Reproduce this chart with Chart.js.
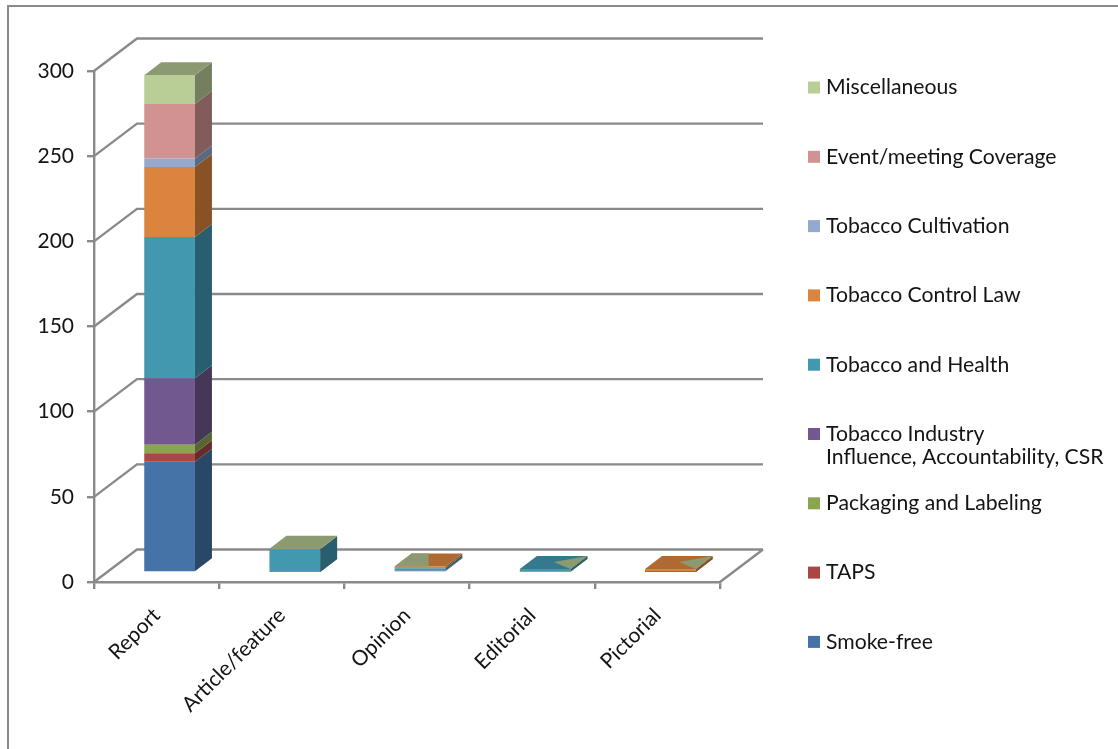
<!DOCTYPE html>
<html>
<head>
<meta charset="utf-8">
<title>Tobacco coverage by article type</title>
<script src="https://cdn.jsdelivr.net/npm/chart.js@4/dist/chart.umd.min.js"></script>
<style>
  html, body { margin: 0; background: #fff; }
  canvas { display: block; }
</style>
</head>
<body>
<canvas id="coverage" width="1118" height="749"></canvas>
<script>
const categories = ["Report", "Article/feature", "Opinion", "Editorial", "Pictorial"];
const yTicks = [0, 50, 100, 150, 200, 250, 300];

const smokeFree = [65, 0, 0, 0, 0];
const taps = [5, 0, 0, 0, 0];
const packaging = [5, 0.3, 0, 0.5, 0];
const industry = [39, 0, 1, 0, 0.3];
const health = [83, 13.4, 1.5, 1.5, 0];
const controlLaw = [41, 0.3, 1, 0, 1.7];
const cultivation = [5, 0, 0, 0, 0];
const eventCoverage = [32, 0, 0, 0, 0];
const miscellaneous = [17, 0, 0, 0, 0];

const seriesLabels = [
  "Smoke-free", "TAPS", "Packaging and Labeling",
  ["Tobacco Industry", "Influence, Accountability, CSR"],
  "Tobacco and Health", "Tobacco Control Law", "Tobacco Cultivation",
  "Event/meeting Coverage", "Miscellaneous"
];
const seriesValues = [smokeFree, taps, packaging, industry, health, controlLaw, cultivation, eventCoverage, miscellaneous];
const seriesColors = ["#4572A7", "#AA4643", "#89A54E", "#71588F", "#4198AF", "#DB843D", "#93A9CF", "#D19392", "#B9CD96"];

const AXIS_GREY = "#8a8a8a";
const AXIS_WIDTH = 2.4;
const TEXT = "#141414";
const FONT = "Lato";
// depth of the box behind the front wall, and of each column
const WALL_DX = 43, WALL_DY = -32.5;
const BAR_DX = 17, BAR_DY = -13;
// columns stand a little way back from the front edge of the floor
const FLOOR_DX = 13, FLOOR_DY = -9.5;

function shade(hex, k) {
  const n = parseInt(hex.slice(1), 16);
  const c = [n >> 16, (n >> 8) & 255, n & 255].map(v => Math.round(v * k));
  return `rgb(${c[0]},${c[1]},${c[2]})`;
}

function fillPoly(ctx, pts, color) {
  ctx.fillStyle = color;
  ctx.beginPath();
  pts.forEach((p, i) => i ? ctx.lineTo(p[0], p[1]) : ctx.moveTo(p[0], p[1]));
  ctx.closePath();
  ctx.fill();
}

// outer frame, left and top only
const framePlugin = {
  id: "frame",
  beforeDraw(chart) {
    const ctx = chart.ctx;
    ctx.save();
    ctx.strokeStyle = AXIS_GREY;
    ctx.lineWidth = 2;
    ctx.beginPath();
    ctx.moveTo(8, chart.height);
    ctx.lineTo(8, 6);
    ctx.lineTo(chart.width, 6);
    ctx.stroke();
    ctx.restore();
  }
};

// back wall and floor lines, taken from the value scale
const wallsPlugin = {
  id: "walls",
  beforeDatasetsDraw(chart) {
    const ctx = chart.ctx;
    const y = chart.scales.y;
    const { left, right } = chart.chartArea;
    ctx.save();
    ctx.strokeStyle = AXIS_GREY;
    ctx.lineWidth = AXIS_WIDTH;
    ctx.beginPath();
    y.ticks.forEach(t => {
      const py = y.getPixelForValue(t.value);
      ctx.moveTo(left, py);
      ctx.lineTo(left + WALL_DX, py + WALL_DY);
      ctx.lineTo(right + WALL_DX, py + WALL_DY);
    });
    const base = y.getPixelForValue(0);
    ctx.moveTo(right, base);
    ctx.lineTo(right + WALL_DX, base + WALL_DY);
    ctx.stroke();
    ctx.restore();
  }
};

// shift the stacks onto the floor and add side and top faces to the flat bars
const boxPlugin = {
  id: "box",
  beforeDatasetsDraw(chart) {
    chart.ctx.save();
    chart.ctx.translate(FLOOR_DX, FLOOR_DY);
  },
  afterDatasetsDraw(chart) {
    const ctx = chart.ctx;
    const sets = chart.data.datasets;
    categories.forEach((name, c) => {
      let top = null;
      sets.forEach((ds, s) => {
        if (!ds.data[c]) return;
        const bar = chart.getDatasetMeta(s).data[c];
        const r = bar.x + bar.width / 2;
        fillPoly(ctx, [
          [r, bar.base], [r + BAR_DX, bar.base + BAR_DY],
          [r + BAR_DX, bar.y + BAR_DY], [r, bar.y]
        ], shade(seriesColors[s], 0.62));
        top = { bar, s };
      });
      drawTop(ctx, top.bar, seriesColors[top.s], c);
    });
    ctx.restore();
  }
};

// the empty series above a stack show through on its top face
function drawTop(ctx, bar, color, c) {
  const l = bar.x - bar.width / 2, r = bar.x + bar.width / 2, y = bar.y;
  const misc = shade(seriesColors[8], 0.75);
  const face = [[l, y], [l + BAR_DX, y + BAR_DY], [r + BAR_DX, y + BAR_DY], [r, y]];
  const split = l + bar.width * 0.67;
  if (c < 2) {
    fillPoly(ctx, face, misc);
  } else {
    fillPoly(ctx, face, shade(color, 0.8));
    if (c === 2) {
      fillPoly(ctx, [[l, y], [l + BAR_DX, y + BAR_DY], [split, y + BAR_DY], [split, y]], misc);
    } else {
      fillPoly(ctx, [[split, y - 7], [r + BAR_DX, y + BAR_DY], [r, y]], misc);
    }
  }
}

// legend column on the right, last series first
const legendPlugin = {
  id: "sideLegend",
  afterDraw(chart) {
    const ctx = chart.ctx;
    ctx.save();
    ctx.font = `21.2px ${FONT}`;
    ctx.textBaseline = "middle";
    seriesLabels.slice().reverse().forEach((label, i) => {
      const cy = 87.5 + i * 69.3;
      ctx.fillStyle = seriesColors[seriesColors.length - 1 - i];
      ctx.fillRect(808, cy - 6, 12, 12);
      ctx.fillStyle = TEXT;
      [].concat(label).forEach((line, n) => ctx.fillText(line, 826, cy + n * 23));
    });
    ctx.restore();
  }
};

new Chart(document.getElementById("coverage"), {
  type: "bar",
  data: {
    labels: categories,
    datasets: seriesValues.map((values, i) => ({
      label: [].concat(seriesLabels[i]).join(" "),
      data: values,
      backgroundColor: seriesColors[i],
      borderWidth: 0,
      clip: false
    }))
  },
  options: {
    responsive: false,
    animation: false,
    events: [],
    categoryPercentage: 1,
    barPercentage: 0.405,
    layout: { padding: { left: 0, top: 71, right: 398, bottom: 0 } },
    plugins: { legend: { display: false }, tooltip: { enabled: false }, title: { display: false } },
    scales: {
      x: {
        stacked: true,
        afterFit(scale) {
          scale.height = 167;
          scale.paddingLeft = scale.paddingRight = 0;
        },
        grid: { color: AXIS_GREY, lineWidth: AXIS_WIDTH, drawOnChartArea: false, tickLength: 7 },
        border: { color: AXIS_GREY, width: AXIS_WIDTH },
        ticks: { minRotation: 45, maxRotation: 45, color: TEXT, padding: 14, font: { family: FONT, size: 21 } }
      },
      y: {
        stacked: true,
        min: 0,
        max: 300,
        afterFit(scale) {
          scale.width = 94;
          scale.paddingTop = scale.paddingBottom = 0;
        },
        afterBuildTicks(scale) {
          scale.ticks = yTicks.map(value => ({ value }));
        },
        grid: { color: AXIS_GREY, lineWidth: AXIS_WIDTH, drawOnChartArea: false, tickLength: 7 },
        border: { color: AXIS_GREY, width: AXIS_WIDTH },
        ticks: { color: TEXT, padding: 13, font: { family: FONT, size: 21 } }
      }
    }
  },
  plugins: [framePlugin, wallsPlugin, boxPlugin, legendPlugin]
});
</script>
</body>
</html>
